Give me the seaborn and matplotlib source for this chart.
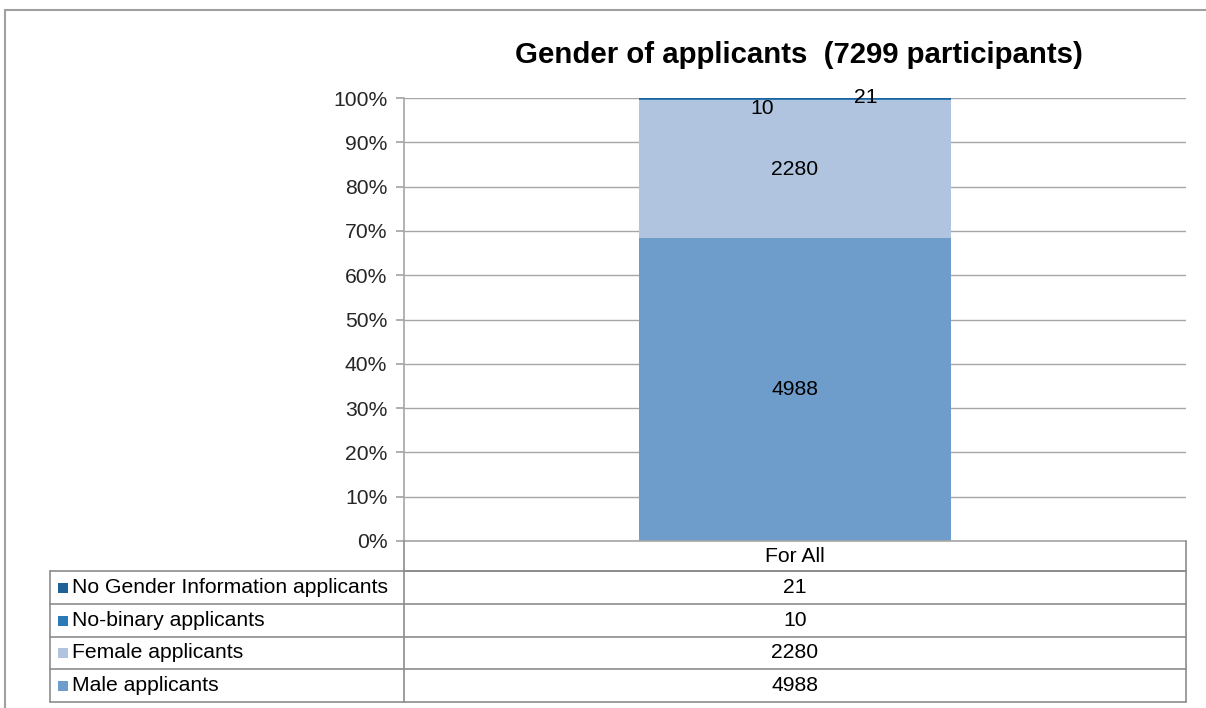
import numpy as np
import pandas as pd
import seaborn as sns
import matplotlib.pyplot as plt
from matplotlib.lines import Line2D
from matplotlib.patches import Rectangle

# data
groups = ['Male applicants', 'Female applicants', 'No-binary applicants', 'No Gender Information applicants']
counts = [4988, 2280, 10, 21]
colors = ['#6E9DCC', '#B0C4DF', '#2A7AB8', '#1F6197']
category = 'For All'
total = sum(counts)

sns.set_theme(style='white')
plt.rcParams['font.family'] = ['Liberation Sans', 'DejaVu Sans']

W, H = 1206, 708
fig = plt.figure(figsize=(W / 100, H / 100), dpi=100)
FS = 15.2

def fx(px):
    return px / W

def fy(py):
    return 1 - py / H

ax_l, ax_r, ax_t, ax_b = 404, 1186, 98, 541
ax = fig.add_axes([fx(ax_l), fy(ax_b), fx(ax_r) - fx(ax_l), fy(ax_t) - fy(ax_b)])

df = pd.DataFrame({'group': groups, 'count': counts})
df['pct'] = df['count'] / total * 100
df['cat'] = category

# stacked bar, one seaborn call per layer
bottom = 0
for i, row in df.iterrows():
    sns.barplot(data=df.iloc[[i]], x='cat', y='pct', color=colors[i], width=0.4,
                bottom=bottom, saturation=1, ax=ax, edgecolor='none')
    bottom += row['pct']

ax.set_xlim(-0.5, 0.5)
ax.set_ylim(0, 100)
ax.set_yticks(np.arange(0, 101, 10))
ax.set_yticklabels([f'{v}%' for v in range(0, 101, 10)], fontsize=FS)
ax.set_xticks([])
ax.set_xlabel('')
ax.set_ylabel('')
ax.yaxis.grid(True, color='#a6a6a6', linewidth=1)
ax.set_axisbelow(True)
ax.axhline(0, color='#a6a6a6', linewidth=1.2, clip_on=False, zorder=5)
for s in ['top', 'right', 'bottom']:
    ax.spines[s].set_visible(False)
ax.spines['left'].set_color('#a6a6a6')
ax.spines['left'].set_linewidth(1.2)
ax.tick_params(axis='y', which='both', left=True, length=6, color='#a6a6a6', pad=6)

# data labels
pct = df['pct'].tolist()
ax.text(0, pct[0] / 2, str(counts[0]), ha='center', va='center', fontsize=FS, color='black')
ax.text(0, pct[0] + pct[1] / 2, str(counts[1]), ha='center', va='center', fontsize=FS, color='black')
ax.text(-0.042, 97.7, str(counts[2]), ha='center', va='center', fontsize=FS, color='black')
ax.text(0.091, 100.2, str(counts[3]), ha='center', va='center', fontsize=FS, color='black')

# title
fig.text(fx(799), fy(55), 'Gender of applicants  (7299 participants)', ha='center', va='center',
         fontsize=21.2, fontweight='bold', color='black')

# data table below the plot
lc = '#8c8c8c'
def hline(x0, x1, y):
    fig.add_artist(Line2D([fx(x0), fx(x1)], [fy(y), fy(y)], color=lc, linewidth=1.2))

def vline(x, y0, y1):
    fig.add_artist(Line2D([fx(x), fx(x)], [fy(y0), fy(y1)], color=lc, linewidth=1.2))

row_edges = [571, 604, 637, 669, 702]
tab_l = 50
vline(ax_l, ax_b, row_edges[-1])
vline(ax_r, ax_b, row_edges[-1])
vline(tab_l, row_edges[0], row_edges[-1])
hline(ax_l, ax_r, row_edges[0])
for y in row_edges:
    hline(tab_l, ax_r, y)

fig.text(fx((ax_l + ax_r) / 2), fy((ax_b + row_edges[0]) / 2), category, ha='center', va='center',
         fontsize=FS, color='black')

order = [3, 2, 1, 0]
for r, gi in enumerate(order):
    yc = (row_edges[r] + row_edges[r + 1]) / 2
    fig.add_artist(Rectangle((fx(58), fy(yc + 5)), fx(10), 10 / H, facecolor=colors[gi],
                             edgecolor='none', transform=fig.transFigure))
    fig.text(fx(72), fy(yc), groups[gi], ha='left', va='center', fontsize=FS, color='black')
    fig.text(fx((ax_l + ax_r) / 2), fy(yc), str(counts[gi]), ha='center', va='center',
             fontsize=FS, color='black')

# outer chart border
fig.add_artist(Line2D([fx(5), fx(5)], [fy(10), fy(H + 5)], color='#a0a0a0', linewidth=1.5))
fig.add_artist(Line2D([fx(5), fx(W + 5)], [fy(10), fy(10)], color='#a0a0a0', linewidth=1.5))

fig.savefig('out.png', dpi=100)
